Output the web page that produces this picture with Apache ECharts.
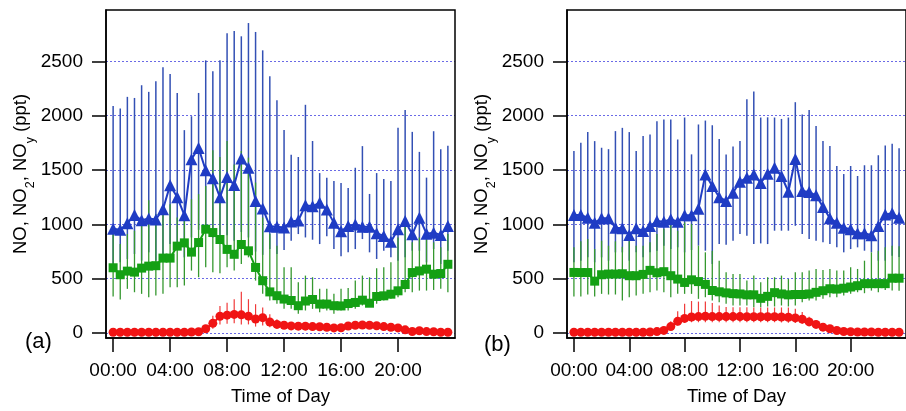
<!DOCTYPE html>
<html>
<head>
<meta charset="utf-8">
<script src="https://cdn.jsdelivr.net/npm/echarts@6/dist/echarts.min.js"></script>
<style>
html,body{margin:0;padding:0;background:#fff;}
#chart{width:906px;height:411px;}
</style>
</head>
<body>
<div id="chart"></div>
<script>
// Time of day (half-hour bins)
const times = ["00:00","00:30","01:00","01:30","02:00","02:30","03:00","03:30","04:00","04:30","05:00","05:30",
"06:00","06:30","07:00","07:30","08:00","08:30","09:00","09:30","10:00","10:30","11:00","11:30",
"12:00","12:30","13:00","13:30","14:00","14:30","15:00","15:30","16:00","16:30","17:00","17:30",
"18:00","18:30","19:00","19:30","20:00","20:30","21:00","21:30","22:00","22:30","23:00","23:30"];
const xTicks = [0,4,8,12,16,20];
const yTicks = [0,500,1000,1500,2000,2500];

// Panel (a)
const noyA   = [960,950,1010,1087,1038,1054,1046,1139,1361,1250,1085,1600,1702,1498,1424,1249,1437,1362,1607,1520,1216,1147,983,978,971,1026,1036,1176,1166,1200,1136,1014,937,985,1000,979,979,918,894,841,955,1031,909,1062,915,924,903,985];
const noyAhi = [2090,2066,2173,2163,2280,2219,2316,2445,2384,2209,1867,1995,2209,2509,2408,2509,2757,2778,2730,2852,2770,2601,2363,2143,1868,1640,1620,2100,1767,1472,1428,1400,1380,1335,1521,1720,1280,1472,1418,1400,1888,2053,1851,1667,1430,1857,1692,1723];
const noyAlo = [636,651,682,728,666,743,666,728,819,773,697,880,950,942,880,819,900,850,930,880,750,720,773,728,764,850,911,880,859,819,890,773,706,743,773,865,743,682,758,697,666,697,758,758,651,773,636,758];
const no2A   = [601,537,570,561,598,616,620,690,690,800,830,745,833,956,925,861,770,725,815,757,604,482,379,344,313,300,252,295,309,267,267,252,250,272,282,303,275,337,343,358,389,447,557,572,588,542,548,633];
const no2Ahi = [911,819,911,942,1064,1223,1094,1156,1186,1064,1125,1232,1278,1354,1681,1620,1767,1550,1675,1614,1385,1064,911,804,605,605,468,529,514,407,407,361,407,416,483,529,514,596,605,651,880,1003,835,880,880,835,789,911];
const no2Alo = [336,309,407,376,361,330,345,361,422,422,437,575,514,605,559,550,605,575,636,697,483,361,300,269,223,223,177,208,223,193,208,177,208,208,223,254,269,269,300,315,330,376,376,391,391,397,407,376];
const noA    = [8,8,8,8,8,8,8,8,8,8,8,10,12,40,90,155,165,172,168,156,130,142,102,80,72,66,64,64,60,58,54,48,49,65,72,75,72,68,60,54,48,30,15,22,14,12,8,8];
const noAhi  = [20,20,20,20,20,20,20,20,20,20,20,25,30,70,160,250,280,312,380,312,266,235,174,128,110,100,95,95,90,88,85,78,80,95,105,105,100,95,90,80,72,50,30,38,28,24,20,20];
const noAlo  = [0,0,0,0,0,0,0,0,0,0,0,0,0,20,40,80,85,90,80,80,60,70,55,45,45,40,40,40,38,36,34,30,30,40,45,48,45,44,38,34,30,18,5,10,5,4,0,0];

// Panel (b)
const noyB   = [1086,1086,1062,1016,1056,1056,970,964,903,964,939,985,1031,1025,1047,1025,1085,1085,1145,1460,1353,1250,1216,1292,1392,1430,1458,1381,1466,1521,1445,1300,1602,1307,1297,1267,1160,1056,1016,970,955,918,918,900,985,1092,1102,1060];
const noyBhi = [1674,1750,1850,1766,1705,1692,1858,1888,1849,1674,1812,1827,1949,1965,1965,1781,1983,1644,1919,1955,1912,1785,1644,1716,1766,2152,2222,1983,1985,1983,1970,1983,2124,2010,2052,1904,1767,1720,1537,1463,1537,1445,1544,1544,1636,1726,1741,1700];
const noyBlo = [651,666,697,651,697,666,743,743,666,743,697,743,758,804,773,789,743,764,804,758,636,819,813,850,911,896,819,825,819,942,942,942,987,911,865,850,835,819,789,743,773,789,758,743,666,666,712,700];
const no2B   = [558,557,557,478,537,543,543,546,528,528,540,577,555,565,528,497,466,490,474,448,392,380,370,363,360,352,352,320,338,372,360,352,355,355,360,375,390,408,405,413,424,436,455,455,455,455,505,505];
const no2Bhi = [789,844,865,773,850,804,844,795,844,804,804,835,911,957,1018,942,1018,1003,804,743,758,666,559,544,544,483,529,468,514,514,529,498,559,559,575,590,581,590,575,575,605,590,666,743,758,789,804,800];
const no2Blo = [336,336,355,336,361,355,355,300,330,345,361,376,391,376,330,361,361,361,315,330,300,284,269,254,254,254,238,238,245,245,254,245,254,284,300,300,315,330,330,345,361,376,367,391,376,397,391,390];
const noB    = [8,8,8,8,8,8,8,8,8,8,8,10,14,25,60,108,135,148,152,155,152,152,152,152,152,150,150,150,150,150,148,146,140,128,103,80,55,40,24,15,12,10,10,10,8,8,8,8];
const noBhi  = [18,18,18,18,18,18,18,18,18,18,18,22,28,50,110,200,270,295,290,290,278,254,240,238,238,238,236,236,236,236,236,236,225,195,150,118,85,62,40,28,22,18,18,18,15,15,15,15];
const noBlo  = [2,2,2,2,2,2,2,2,2,2,2,3,5,12,35,70,95,100,100,100,100,100,100,100,100,100,100,100,100,100,98,96,92,85,70,55,38,28,14,8,6,4,4,4,2,2,2,2];

const FONT = '"Liberation Sans", Arial, sans-serif';
const hours = times.map(t => { const p = t.split(':'); return +p[0] + (+p[1]) / 60; });
const pad = n => (n < 10 ? '0' : '') + n;

const C_BLUE = '#1f3cc4', C_BLUE_ERR = '#3350b4';
const C_GREEN = '#14a014', C_GREEN_ERR = '#35982f';
const C_RED = '#f01414', C_RED_ERR = '#f03a3a';

function errSeries(idx, lo, hi, color, width) {
  return {
    type: 'custom', xAxisIndex: idx, yAxisIndex: idx, silent: true, z: 1,
    data: hours.map((h, i) => [h, lo[i], hi[i]]),
    encode: { x: 0, y: [1, 2] },
    renderItem: (params, api) => {
      const p1 = api.coord([api.value(0), api.value(1)]);
      const p2 = api.coord([api.value(0), api.value(2)]);
      return { type: 'line', shape: { x1: p1[0], y1: p1[1], x2: p2[0], y2: p2[1] },
               style: { stroke: color, lineWidth: width } };
    }
  };
}
function lineSeries(idx, vals, color, symbol, size, z) {
  return {
    type: 'line', xAxisIndex: idx, yAxisIndex: idx, z: z,
    data: hours.map((h, i) => [h, vals[i]]),
    symbol: symbol, symbolSize: size, showSymbol: true,
    lineStyle: { color: color, width: 2 }, itemStyle: { color: color },
    animation: false, silent: true
  };
}

const grids = [
  { left: 106, top: 10, width: 349, height: 329 },
  { left: 567, top: 10, width: 349, height: 329 }
];
const xAxes = [0, 1].map(i => ({
  type: 'value', gridIndex: i, min: -0.5, max: 24,
  axisLine: { show: true, onZero: false, lineStyle: { color: '#000', width: 1.5 } },
  axisTick: { show: true, length: 14, lineStyle: { color: '#000', width: 1.5 }, customValues: xTicks },
  axisLabel: { customValues: xTicks, formatter: v => pad(v) + ':00', color: '#000', fontSize: 19, fontFamily: FONT, margin: 23 },
  splitLine: { show: false },
  name: 'Time of Day', nameLocation: 'middle', nameGap: 49,
  nameTextStyle: { color: '#000', fontSize: 18.5, fontFamily: FONT }
}));
const yAxes = [0, 1].map(i => ({
  type: 'value', gridIndex: i, min: -45, max: 2972,
  axisLine: { show: true, onZero: false, lineStyle: { color: '#000', width: 1.5 } },
  axisTick: { show: true, length: 14, lineStyle: { color: '#000', width: 1.5 }, customValues: yTicks },
  axisLabel: { customValues: yTicks, formatter: v => String(v), color: '#000', fontSize: 19, fontFamily: FONT, margin: 23 },
  splitLine: { show: true, lineStyle: { color: '#6a6ae6', type: [2, 2], width: 1 } },
  name: 'NO, NO{s|2}, NO{s|y} (ppt)', nameLocation: 'middle', nameGap: 67,
  nameTextStyle: { color: '#000', fontSize: 18.5, fontFamily: FONT, lineHeight: 22,
    rich: { s: { fontSize: 12.5, fontFamily: FONT, color: '#000', verticalAlign: 'bottom', lineHeight: 12, padding: [0, 0, -5, 0] } } }
}));

const series = [
  errSeries(0, noyAlo, noyAhi, C_BLUE_ERR, 1.5),
  errSeries(0, no2Alo, no2Ahi, C_GREEN_ERR, 1.3),
  errSeries(0, noAlo, noAhi, C_RED_ERR, 1.2),
  lineSeries(0, noyA, C_BLUE, 'triangle', 12, 3),
  lineSeries(0, no2A, C_GREEN, 'rect', 9, 4),
  lineSeries(0, noA, C_RED, 'circle', 9, 5),
  errSeries(1, noyBlo, noyBhi, C_BLUE_ERR, 1.5),
  errSeries(1, no2Blo, no2Bhi, C_GREEN_ERR, 1.3),
  errSeries(1, noBlo, noBhi, C_RED_ERR, 1.2),
  lineSeries(1, noyB, C_BLUE, 'triangle', 12, 3),
  lineSeries(1, no2B, C_GREEN, 'rect', 9, 4),
  lineSeries(1, noB, C_RED, 'circle', 9, 5)
];

const chart = echarts.init(document.getElementById('chart'), null, { renderer: 'canvas' });
chart.setOption({
  animation: false,
  backgroundColor: '#fff',
  grid: grids.map(g => Object.assign({ show: true, borderColor: '#000', borderWidth: 1.5, backgroundColor: 'transparent', z: 10 }, g)),
  xAxis: xAxes,
  yAxis: yAxes,
  series: series,
  graphic: [
    { type: 'text', left: 25, top: 331, style: { text: '(a)', fontSize: 22, fontFamily: FONT, fill: '#000' } },
    { type: 'text', left: 484, top: 334, style: { text: '(b)', fontSize: 22, fontFamily: FONT, fill: '#000' } }
  ]
});
</script>
</body>
</html>
